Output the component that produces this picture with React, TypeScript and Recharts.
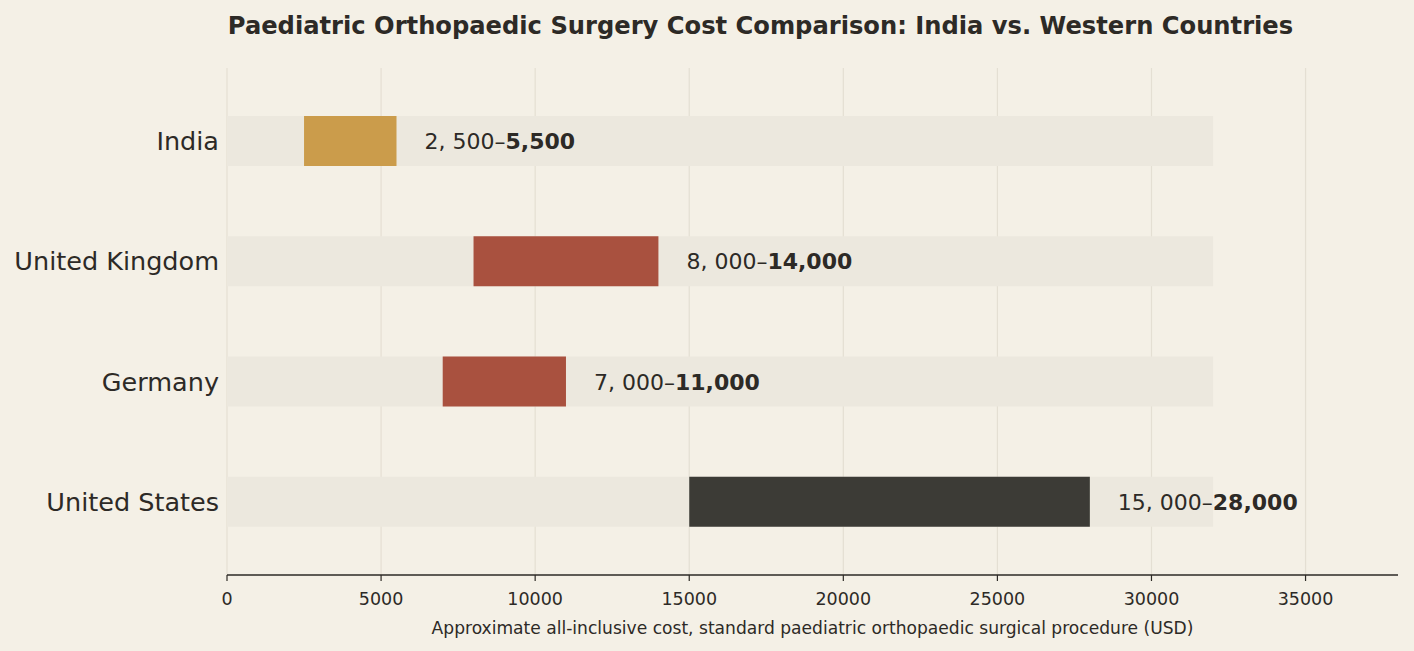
import React from "react";
import { BarChart, Bar, XAxis, YAxis, CartesianGrid, Cell } from "recharts";

const countries = ["India", "United Kingdom", "Germany", "United States"];
const lowCost = [2500, 8000, 7000, 15000];
const highCost = [5500, 14000, 11000, 28000];
const trackMax = 32000;
const barColors = ["#CB9C4B", "#A9513F", "#A9513F", "#3C3B36"];
const xTicks = [0, 5000, 10000, 15000, 20000, 25000, 30000, 35000];

const data = countries.map((c, i) => ({
  country: c,
  range: [lowCost[i], highCost[i]],
  track: [0, trackMax],
  low: lowCost[i],
  high: highCost[i],
}));

const fmtLow = (v: number) => {
  const s = v.toLocaleString("en-US");
  return s.replace(",", ", ");
};
const fmtHigh = (v: number) => v.toLocaleString("en-US");

const TEXT = "#2D2A26";

const RangeShape = (props: any) => {
  const { x, y, width, height, fill, payload } = props;
  return (
    <g>
      <rect x={x} y={y} width={width} height={height} fill={fill} />
      <text
        x={x + width + 28}
        y={y + height / 2}
        dominantBaseline="central"
        fontSize={22}
        fill={TEXT}
        fontFamily="DejaVu Sans"
      >
        <tspan>{fmtLow(payload.low)}–</tspan>
        <tspan fontWeight="bold">{fmtHigh(payload.high)}</tspan>
      </text>
    </g>
  );
};

export default function App() {
  return (
    <div
      style={{
        position: "absolute",
        left: 0,
        top: 0,
        width: 1414,
        height: 651,
        background: "#F4F0E6",
        fontFamily: "DejaVu Sans",
      }}
    >
      <div
        style={{
          position: "absolute",
          top: 12,
          left: 0,
          width: 1521,
          textAlign: "center",
          fontSize: 24.2,
          fontWeight: "bold",
          color: TEXT,
        }}
      >
        Paediatric Orthopaedic Surgery Cost Comparison: India vs. Western Countries
      </div>
      <BarChart
        width={1414}
        height={651}
        data={data}
        layout="vertical"
        margin={{ top: 68, right: 16, bottom: 0, left: 0 }}
        barGap={-50}
        style={{ position: "absolute", left: 0, top: 0 }}
      >
        <CartesianGrid
          horizontal={false}
          stroke="#E4DFD3"
          strokeWidth={1.2}
          verticalValues={xTicks}
        />
        <XAxis
          type="number"
          domain={[0, 38000]}
          ticks={xTicks}
          height={76}
          tick={{ fontSize: 17.5, fill: TEXT, fontFamily: "DejaVu Sans" }}
          tickLine={{ stroke: TEXT, strokeWidth: 1.2 }}
          tickSize={6}
          tickMargin={12}
          axisLine={{ stroke: TEXT, strokeWidth: 1.5 }}
          label={{
            value: "Approximate all-inclusive cost, standard paediatric orthopaedic surgical procedure (USD)",
            position: "insideBottom",
            offset: 17,
            fontSize: 17.1,
            fill: TEXT,
            fontFamily: "DejaVu Sans",
          }}
          allowDataOverflow
        />
        <YAxis
          type="category"
          dataKey="country"
          width={227}
          padding={{ top: 13, bottom: 13 }}
          axisLine={false}
          tickLine={false}
          tickMargin={2}
          tick={{ fontSize: 25.5, fill: TEXT, fontFamily: "DejaVu Sans" }}
        />
        <Bar dataKey="track" fill="#ECE8DE" barSize={50} isAnimationActive={false} />
        <Bar dataKey="range" barSize={50} isAnimationActive={false} shape={RangeShape}>
          {data.map((d, i) => (
            <Cell key={d.country} fill={barColors[i]} />
          ))}
        </Bar>
      </BarChart>
    </div>
  );
}
